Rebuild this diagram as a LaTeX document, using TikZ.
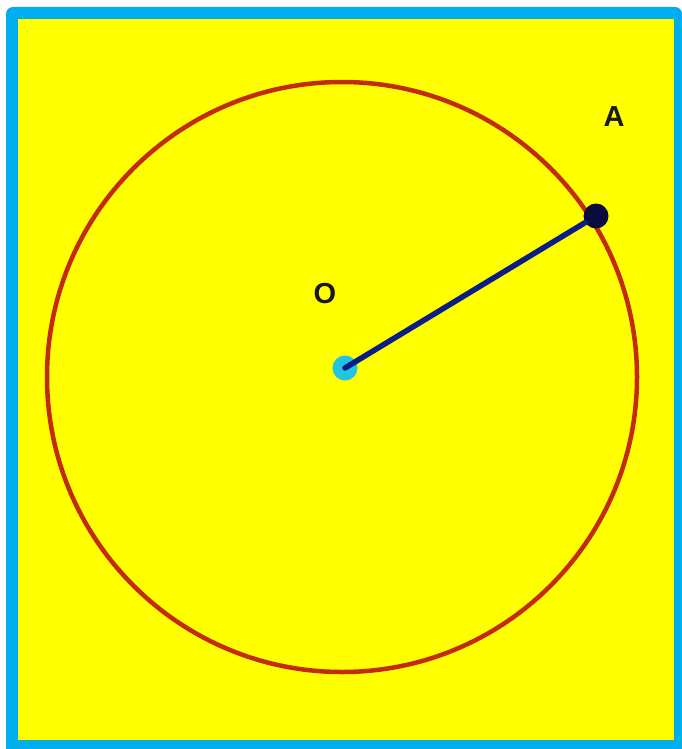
\documentclass[tikz,border=0pt]{standalone}
\usepackage{fontspec}
\setmainfont{Liberation Sans}
\definecolor{frameblue}{HTML}{00AEEF}
\definecolor{paper}{HTML}{FFFF00}
\definecolor{rim}{HTML}{C42A0C}
\definecolor{radiusblue}{HTML}{0A1C86}
\definecolor{pointink}{HTML}{0B0B3E}
\definecolor{centrecyan}{HTML}{22C4E4}
\tikzset{
  rimline/.style={draw=rim,line width=4.5pt},
  radiusline/.style={draw=radiusblue,line width=5.5pt,line cap=round},
  centredot/.style={circle,fill=centrecyan,inner sep=0pt,minimum size=25pt},
  pointdot/.style={circle,fill=pointink,inner sep=0pt,minimum size=25pt},
  label/.style={font=\fontsize{29}{31}\selectfont\bfseries,text=black!90,inner sep=0pt}
}
\begin{document}
\begin{tikzpicture}[x=1pt,y=-1pt]
    \def\w{682}
    \def\h{749}
    \useasboundingbox (0,0) rectangle (\w,\h);
    \fill[white] (0,0) rectangle (\w,\h);
    % frame and background
    \fill[frameblue] (6,\h) -- (6,19) [rounded corners=7pt] -- (6,7) -- (\w,7) [sharp corners] -- (\w,\h) -- cycle;
    \fill[paper] (18,19) rectangle (674,740);

    % circle with centre O
    \draw[rimline] (342,377) circle[radius=295pt];

    \node[centredot] (o) at (345,368) {};
    \node[pointdot] (a) at (596,216) {};
    \draw[radiusline] (o.center) -- (a);

    \node[label] (lblO) at (325,294) {O};
    \node[label] (lblA) at (614,117) {A};
  \end{tikzpicture}
\end{document}
